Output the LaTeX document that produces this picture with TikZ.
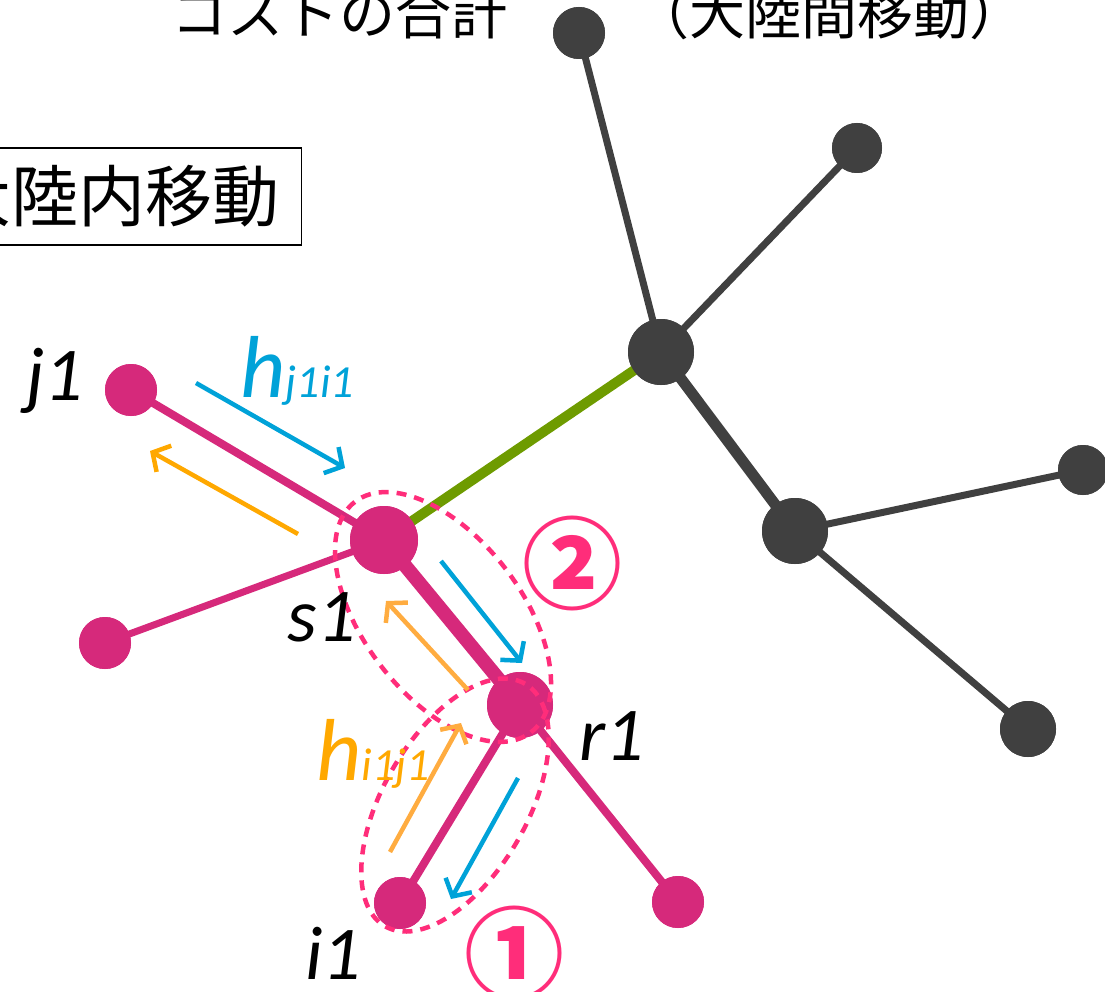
\documentclass[tikz,border=0pt]{standalone}
\usepackage{fontspec}
\newfontfamily\jp{Noto Sans CJK JP}
\newfontfamily\lab{Carlito}
\usetikzlibrary{arrows.meta}
\definecolor{pnk}{RGB}{214,41,123}
\definecolor{dpink}{RGB}{255,45,122}
\definecolor{gry}{RGB}{64,64,64}
\definecolor{grn}{RGB}{110,155,0}
\definecolor{blu}{RGB}{0,162,216}
\definecolor{org}{RGB}{255,168,0}
\definecolor{org2}{RGB}{255,172,64}
\tikzset{
  gnode/.style={circle,fill=gry,inner sep=0pt,minimum size=#1},
  pnode/.style={circle,fill=pnk,inner sep=0pt,minimum size=#1},
  gedge/.style={draw=gry,line width=7pt},
  pedge/.style={draw=pnk,line width=8pt},
  harrow/.style={line width=4.5pt,-{Straight Barb[length=13pt,width=30pt]}},
  lbl/.style={font=\lab\itshape\fontsize{76}{80}\selectfont,inner sep=0pt},
  hlbl/.style={font=\lab\itshape\fontsize{88}{90}\selectfont,inner sep=0pt,anchor=base west},
  sub/.style={font=\lab\itshape\fontsize{46}{48}\selectfont,inner sep=0pt,anchor=base west},
  grp/.style={draw=dpink,line width=4.5pt,dash pattern=on 10pt off 8pt},
  circnum/.style={font=\jp\bfseries\fontsize{100}{102}\selectfont,text=dpink,inner sep=0pt},
  jtext/.style={font=\jp\fontsize{56}{58}\selectfont,anchor=base west,inner sep=0pt}
}
\begin{document}
\begin{tikzpicture}[x=1pt,y=1pt]
\clip (0,0) rectangle (1105,-992);
% top cut-off text
\node[jtext] (t1) at (171,-35) {コストの合計};
\node[jtext] (t2) at (633,-35) {（大陸間移動）};
% box
\node[draw=black,line width=1.3pt,font=\jp\fontsize{67}{68}\selectfont,inner xsep=22pt,inner ysep=0pt,anchor=east,minimum height=97pt] (box) at (302,-196.5) {大陸内移動};
% gray nodes
\node[gnode=52pt] (g1) at (579,-33) {};
\node[gnode=50pt] (g2) at (857,-148) {};
\node[gnode=66pt] (hub) at (661,-352) {};
\node[gnode=50pt] (g3) at (1083,-470) {};
\node[gnode=66pt] (mid) at (795,-531) {};
\node[gnode=56pt] (g4) at (1028,-729) {};
% pink nodes
\node[pnode=52pt] (j1) at (131,-390) {};
\node[pnode=68pt] (s1) at (384,-540) {};
\node[pnode=52pt] (pl) at (105,-643) {};
\node[pnode=66pt] (r1) at (520,-705) {};
\node[pnode=52pt] (i1) at (400,-903) {};
\node[pnode=52pt] (pr) at (678,-902) {};
% edges
\path[gedge] (g1.center) -- (hub.center);
\path[gedge] (g2.center) -- (hub.center);
\path[gedge,line width=11pt] (hub.center) -- (mid.center);
\path[gedge] (mid.center) -- (g3.center);
\path[gedge] (mid.center) -- (g4.center);
\path[draw=grn,line width=10pt] (hub.center) -- (s1.center);
\path[pedge] (j1.center) -- (s1.center);
\path[pedge,line width=7pt] (pl.center) -- (s1.center);
\path[pedge,line width=14pt] (s1.center) -- (r1.center);
\path[pedge] (r1.center) -- (i1.center);
\path[pedge] (r1.center) -- (pr.center);
% redraw node discs on top of the edges
\foreach \n/\s in {g1/52,g2/50,hub/66,g3/50,mid/66,g4/56}{\fill[gry] (\n.center) circle (\s pt/2);}
\foreach \n/\s in {j1/52,s1/68,pl/52,r1/66,i1/52,pr/52}{\fill[pnk] (\n.center) circle (\s pt/2);}
% group ellipses
\draw[grp,rotate around={-52.7:(443,-617)}] (443,-617) ellipse (145pt and 79pt);
\draw[grp,rotate around={60:(455,-805)}] (455,-805) ellipse (140pt and 72pt);
% arrows
\coordinate (a1s) at (196,-383); \coordinate (a1e) at (345,-468);
\coordinate (a2s) at (298,-534); \coordinate (a2e) at (150,-451);
\coordinate (a3s) at (441,-561); \coordinate (a3e) at (522,-663);
\coordinate (a4s) at (468,-690); \coordinate (a4e) at (386,-601);
\coordinate (a5s) at (390,-852); \coordinate (a5e) at (461,-723);
\coordinate (a6s) at (518,-778); \coordinate (a6e) at (451,-899);
\draw[harrow,blu] (a1s) -- (a1e);
\draw[harrow,org] (a2s) -- (a2e);
\draw[harrow,blu] (a3s) -- (a3e);
\draw[harrow,org2] (a4s) -- (a4e);
\draw[harrow,org2] (a5s) -- (a5e);
\draw[harrow,blu] (a6s) -- (a6e);
% labels
\node[lbl] (lj1) at (55,-381) {j1};
\node[lbl] (ls1) at (322,-617) {s1};
\node[lbl] (lr1) at (612,-736) {r1};
\node[lbl] (li1) at (333,-953) {i1};
\node[hlbl,text=blu] (h1) at (240,-397) {h};
\node[sub,text=blu] (h1s) at (h1.base east) {j1i1};
\node[hlbl,text=org] (h2) at (316,-780) {h};
\node[sub,text=org] (h2s) at (h2.base east) {i1j1};
\node[circnum] (n2) at (572,-563) {②};
\node[circnum] (n1) at (514,-953) {①};
\end{tikzpicture}
\end{document}
